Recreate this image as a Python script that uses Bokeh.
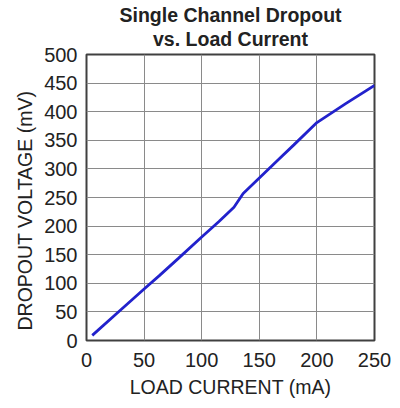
from bokeh.plotting import figure
from bokeh.models import Title, FixedTicker
from bokeh.embed import file_html
from bokeh.resources import INLINE

load_current_ma = [5, 25, 50, 63, 80, 100, 115, 128, 136, 150, 166, 180, 200, 225, 250]
dropout_mv = [9, 45, 90, 113, 144, 181, 208, 233, 257, 284, 315, 342, 381, 414, 446]

x_ticks = [0, 50, 100, 150, 200, 250]
y_ticks = [0, 50, 100, 150, 200, 250, 300, 350, 400, 450, 500]

title_line1 = "Single Channel Dropout"
title_line2 = "vs. Load Current"
x_label = "LOAD CURRENT (mA)"
y_label = "DROPOUT VOLTAGE (mV)"

FONT = "Liberation Sans"

p = figure(width=392, height=400, x_range=(0, 250), y_range=(0, 500),
           output_backend="svg", toolbar_location=None,
           min_border_left=86, min_border_right=18,
           min_border_top=54, min_border_bottom=59)
p.title.text = ""
p.title.visible = False

for ax in (p.xaxis[0], p.yaxis[0]):
    ax.major_tick_out = 0
    ax.major_tick_in = 0
    ax.minor_tick_out = 0
    ax.minor_tick_in = 0
    ax.axis_line_color = None
    ax.major_label_text_font = FONT
    ax.major_label_text_font_size = "20px"
    ax.major_label_text_color = "#222222"

p.xaxis[0].ticker = FixedTicker(ticks=x_ticks)
p.yaxis[0].ticker = FixedTicker(ticks=y_ticks)
p.xaxis[0].major_label_standoff = 12
p.yaxis[0].major_label_standoff = 9

p.xaxis[0].axis_label = x_label
p.xaxis[0].axis_label_standoff = 6
p.xaxis[0].axis_label_text_font = FONT
p.xaxis[0].axis_label_text_font_size = "19.5px"
p.xaxis[0].axis_label_text_font_style = "normal"
p.xaxis[0].axis_label_text_color = "#222222"
p.xaxis[0].axis_label_text_line_height = 0.8

p.xgrid[0].ticker = FixedTicker(ticks=x_ticks)
p.ygrid[0].ticker = FixedTicker(ticks=y_ticks)
for g in (p.xgrid[0], p.ygrid[0]):
    g.grid_line_color = "#8a8a8a"
    g.grid_line_width = 1
    g.grid_line_alpha = 1

p.outline_line_color = "#404040"
p.outline_line_width = 2
p.background_fill_color = "white"
p.border_fill_color = "white"

p.line(load_current_ma, dropout_mv, line_color="#2222cc", line_width=2.8)

t2 = Title(text=title_line2, align="center", text_font=FONT, text_font_size="19.5px",
           text_font_style="bold", text_color="#222222", standoff=9)
t1 = Title(text=title_line1, align="center", text_font=FONT, text_font_size="19.5px",
           text_font_style="bold", text_color="#222222", standoff=-8)
p.add_layout(t2, "above")
p.add_layout(t1, "above")

yl = Title(text=y_label, align="left", offset=10, text_font=FONT, text_font_size="19.5px",
           text_font_style="normal", text_color="#222222", standoff=12)
p.add_layout(yl, "left")

open("out.html", "w").write(file_html(p, INLINE))
